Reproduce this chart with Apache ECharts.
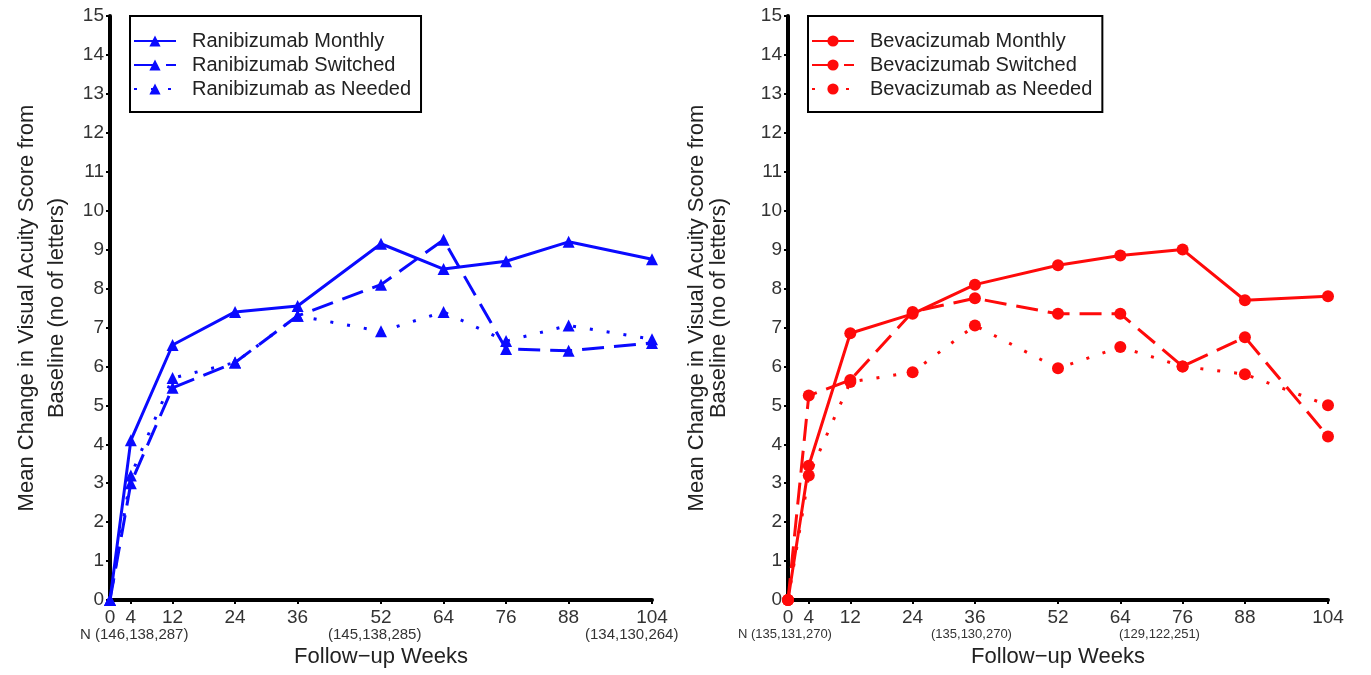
<!DOCTYPE html>
<html>
<head>
    <meta charset="UTF-8">
    <title>Visual acuity change</title>
</head>
<body>
    <div id="_Echart"></div>
</body>
<style type="text/css">
    body{margin:0;background:#fff;}
    div{height: 675px;width: 1371px;}
</style>
<script type="text/javascript" src="https://cdn.jsdelivr.net/npm/echarts@6/dist/echarts.min.js"></script>
<script type="text/javascript">
// data
var weeks = [0, 4, 12, 24, 36, 52, 64, 76, 88, 104];
var yTicks = [0, 1, 2, 3, 4, 5, 6, 7, 8, 9, 10, 11, 12, 13, 14, 15];

var raniMonthly  = [0, 4.1, 6.55, 7.4, 7.55, 9.15, 8.5, 8.7, 9.2, 8.75];
var raniSwitched = [0, 3.0, 5.45, 6.1, 7.3, 8.1, 9.25, 6.45, 6.4, 6.6];
var raniNeeded   = [0, 3.2, 5.7, 6.1, 7.3, 6.9, 7.4, 6.65, 7.05, 6.7];

var bevaMonthly  = [0, 3.45, 6.85, 7.35, 8.1, 8.6, 8.85, 9.0, 7.7, 7.8];
var bevaSwitched = [0, 5.25, 5.65, 7.4, 7.75, 7.35, 7.35, 6.0, 6.75, 4.2];
var bevaNeeded   = [0, 3.2, 5.6, 5.85, 7.05, 5.95, 6.5, 6.0, 5.8, 5.0];

var nLeft  = ['N (146,138,287)', '(145,138,285)', '(134,130,264)'];
var nRight = ['N (135,131,270)', '(135,130,270)', '(129,122,251)'];

var BLUE = '#0a0aff', RED = '#ff0a0a';
var FONT = 'Liberation Sans, Arial, sans-serif';

function pairs(ys) { return weeks.map(function (w, i) { return [w, ys[i]]; }); }

function xAxis(idx) {
    return {
        type: 'value', gridIndex: idx, min: 0, max: 104,
        name: 'Follow\u2212up Weeks', nameLocation: 'middle', nameGap: 46,
        nameTextStyle: { fontSize: 22, color: '#222', fontFamily: FONT },
        axisLine: { lineStyle: { color: '#000', width: 4 } },
        axisTick: { show: true, customValues: weeks, length: 4, lineStyle: { color: '#000', width: 2 } },
        axisLabel: { customValues: weeks, fontSize: 19, color: '#333', margin: 8, fontFamily: FONT },
        splitLine: { show: false }
    };
}

function yAxis(idx, gap, lh) {
    return {
        type: 'value', gridIndex: idx, min: 0, max: 15, interval: 1,
        name: 'Mean Change in Visual Acuity Score from\nBaseline (no of letters)',
        nameLocation: 'middle', nameGap: gap, nameRotate: 90,
        nameTextStyle: { fontSize: 22, color: '#222', lineHeight: lh, fontFamily: FONT },
        axisLine: { show: true, lineStyle: { color: '#000', width: 4 } },
        axisTick: { show: true, length: 4, lineStyle: { color: '#000', width: 2 } },
        axisLabel: { fontSize: 19, color: '#333', margin: 6, fontFamily: FONT,
            formatter: function (v) { return yTicks.indexOf(v) >= 0 ? String(v) : ''; } },
        splitLine: { show: false }
    };
}

function line(name, idx, ys, color, symbol, type, width) {
    return {
        name: name, type: 'line', xAxisIndex: idx, yAxisIndex: idx,
        data: pairs(ys), symbol: symbol, symbolSize: 12, showSymbol: true,
        lineStyle: { color: color, width: width, type: type },
        itemStyle: { color: color }, z: 3
    };
}

function legend(left, names) {
    return {
        left: left, top: 16, orient: 'vertical', data: names,
        borderColor: '#000', borderWidth: 2, padding: [15, 10, 13, 3],
        itemWidth: 42, itemHeight: 14, itemGap: 4,
        textStyle: { fontSize: 20, color: '#222', lineHeight: 20, padding: [0, 0, 0, 11], fontFamily: FONT }
    };
}

function nText(x, y, t, size) {
    return { type: 'text', left: x, top: y, style: { text: t, fontSize: size, fill: '#333', fontFamily: FONT } };
}

var chart = echarts.init(document.getElementById('_Echart'));
var option = {
    backgroundColor: '#fff',
    animation: false,
    grid: [
        { left: 110, top: 16, width: 542, height: 584 },
        { left: 788, top: 16, width: 540, height: 584 }
    ],
    xAxis: [xAxis(0), xAxis(1)],
    yAxis: [yAxis(0, 38, 30), yAxis(1, 58, 22)],
    legend: [
        legend(130, ['Ranibizumab Monthly', 'Ranibizumab Switched', 'Ranibizumab as Needed']),
        legend(808, ['Bevacizumab Monthly', 'Bevacizumab Switched', 'Bevacizumab as Needed'])
    ],
    series: [
        line('Ranibizumab Monthly', 0, raniMonthly, BLUE, 'triangle', 'solid', 3),
        line('Ranibizumab Switched', 0, raniSwitched, BLUE, 'triangle', [22, 10], 3),
        line('Ranibizumab as Needed', 0, raniNeeded, BLUE, 'triangle', [3, 14], 3),
        line('Bevacizumab Monthly', 1, bevaMonthly, RED, 'circle', 'solid', 3),
        line('Bevacizumab Switched', 1, bevaSwitched, RED, 'circle', [22, 10], 3),
        line('Bevacizumab as Needed', 1, bevaNeeded, RED, 'circle', [3, 14], 3)
    ],
    graphic: [
        nText(80, 627, nLeft[0], 15), nText(328, 627, nLeft[1], 15), nText(585, 627, nLeft[2], 15),
        nText(738, 628, nRight[0], 13), nText(931, 628, nRight[1], 13), nText(1119, 628, nRight[2], 13)
    ]
};
chart.setOption(option);
</script>
</html>
